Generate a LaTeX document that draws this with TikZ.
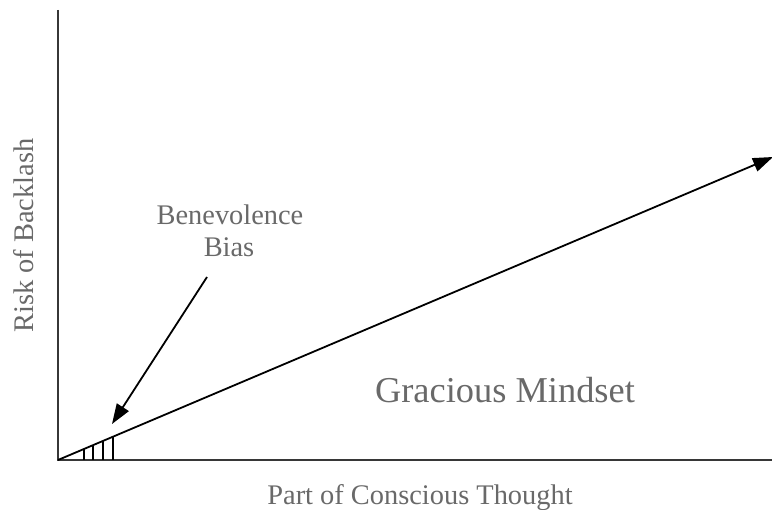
\documentclass[tikz,border=0pt]{standalone}
\usepackage{fontspec}
\setmainfont{Liberation Serif}
\usetikzlibrary{arrows.meta,positioning,calc}
\definecolor{AxisGray}{RGB}{55,55,55}
\definecolor{TextGray}{RGB}{105,105,105}

\begin{document}
\begin{tikzpicture}[x=1pt, y=-1pt,
    axisline/.style={AxisGray, line width=2pt},
    arrowline/.style={black, line width=1.8pt, -{Triangle[length=20pt,width=14pt]}},
    label/.style={TextGray, font=\fontsize{28.4}{32}\selectfont, inner sep=0pt, anchor=base}]
  \useasboundingbox (0,0) rectangle (772,510);
  \coordinate (origin) at (58,460);
  \coordinate (ytop) at (58,10);
  \coordinate (xend) at (772,460);
  \coordinate (tip) at (773,157);
  % axes
  \draw[axisline] (ytop) -- (origin) -- (xend);
  % rising line and hatching
  \draw[arrowline] (origin) -- (tip);
  \foreach \hx in {84,93,103,113}
    \draw[black, line width=1.6pt] (\hx,460) -- ($(origin)!{(\hx-58)/715}!(tip)$);
  % labels
  \node[label] (xlab) at (420,505) {Part of Conscious Thought};
  \node[label, rotate=90] (ylab) at (33,235.5) {Risk of Backlash};
  \node[label, font=\fontsize{36.4}{40}\selectfont] (mind) at (505,403) {Gracious Mindset};
  \node[label] (benev) at (230,225) {Benevolence};
  \node[label] (bias) at (229,257) {Bias};
  \coordinate (biasfrom) at (207,277);
  \coordinate (biastip) at (112,424);
  \draw[arrowline] (biasfrom) -- (biastip);
\end{tikzpicture}
\end{document}
